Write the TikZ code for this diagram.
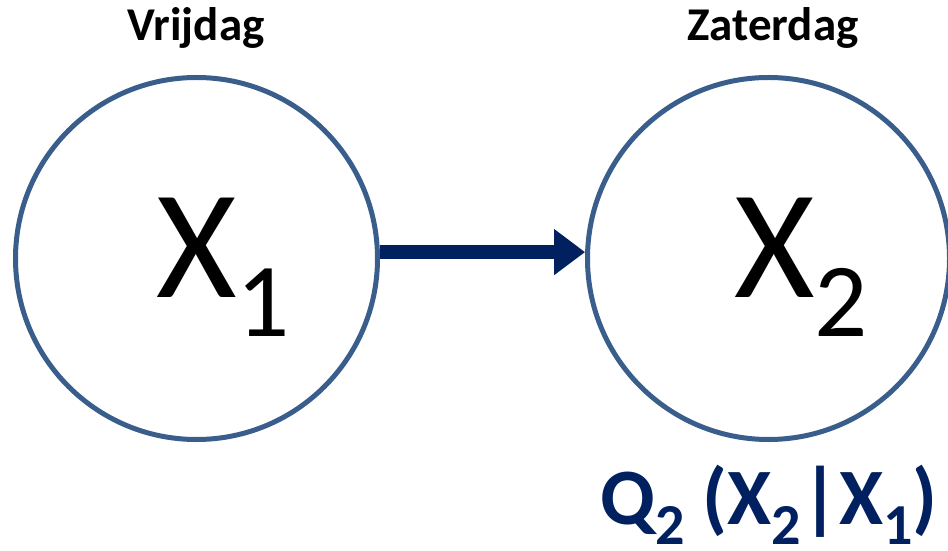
\documentclass[tikz,border=0pt]{standalone}
\usepackage{fontspec}
\setmainfont{Carlito}
\usetikzlibrary{arrows.meta}
\definecolor{ringblue}{RGB}{58,94,140}
\definecolor{navy}{RGB}{0,32,96}
\tikzset{
  state/.style={circle, draw=ringblue, line width=5bp, minimum size=362bp, inner sep=0pt},
  daylabel/.style={anchor=base, font=\fontsize{47bp}{54bp}\selectfont\bfseries, text=black, inner sep=0pt},
  varlabel/.style={anchor=base, font=\fontsize{155bp}{160bp}\selectfont, text=black, inner sep=0pt},
  probtext/.style={anchor=base, font=\fontsize{80bp}{90bp}\selectfont\bfseries, text=navy, inner sep=0pt},
  link/.style={draw=navy, line width=14bp, -{Triangle[length=31bp,width=44bp]}}
}
\newcommand{\bigsub}[1]{\raisebox{-39bp}{\fontsize{105bp}{110bp}\selectfont #1}}
\newcommand{\qsub}[1]{\raisebox{-20bp}{\fontsize{58bp}{60bp}\selectfont #1}}
\begin{document}
\begin{tikzpicture}[x=1bp, y=-1bp]
  \useasboundingbox (0,0) rectangle (948,551);

  % the two days as states
  \node[state] (x1) at (196.5,258.5) {};
  \node[state] (x2) at (768.5,258.5) {};

  % day names above the states
  \node[daylabel] (fri) at (196,41) {Vrijdag};
  \node[daylabel] (sat) at (773,41) {Zaterdag};

  % variable names inside the states
  \node[varlabel] (v1) at (223,298) {X\bigsub{1}};
  \node[varlabel] (v2) at (801,298) {X\bigsub{2}};

  % transition from Friday to Saturday
  \draw[link] (x1.2) -- (x2.178);

  % transition probability
  \node[probtext] (q) at (769,524) {Q\qsub{2} (X\qsub{2}|X\qsub{1})};
\end{tikzpicture}
\end{document}
